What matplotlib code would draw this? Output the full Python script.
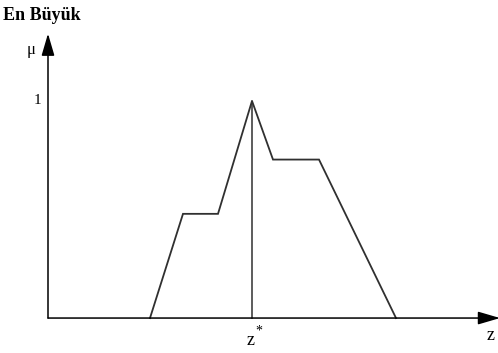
import matplotlib.pyplot as plt

# membership function of the aggregated output (z in arbitrary units)
z_pts = [5.1, 6.75, 8.5, 10.2, 11.25, 13.55, 17.4]
mu_pts = [0, 0.48, 0.48, 1, 0.73, 0.73, 0]
z_star = 10.2
mu_star = 1

fig = plt.figure(figsize=(4.98, 3.53), dpi=100)
ax = fig.add_axes([0, 0, 1, 1])
ax.set_xlim(-2.4, 22.5)
ax.set_ylim(-0.161, 1.465)
ax.axis('off')

line_col = '#303030'
serif = ['Liberation Serif', 'DejaVu Serif']

# axes with arrow heads
arrow = dict(arrowstyle='-|>,head_length=0.75,head_width=0.22', color='black',
             lw=1.1, mutation_scale=18, shrinkA=0, shrinkB=0)
ax.annotate('', xy=(0, 1.31), xytext=(0, 0), arrowprops=arrow,
            annotation_clip=False)
ax.annotate('', xy=(22.6, 0), xytext=(0, 0), arrowprops=arrow,
            annotation_clip=False)

ax.plot(z_pts, mu_pts, color=line_col, lw=1.3, solid_joinstyle='miter')
ax.plot([z_star, z_star], [0, mu_star], color=line_col, lw=1.1)

# labels
fig.text(3 / 498, 1 - 15 / 353, 'En Büyük', fontsize=13, fontweight='bold',
         family=serif, va='center', ha='left')
ax.text(-0.65, 1.235, 'μ', fontsize=12, family=serif, ha='right', va='center')
ax.text(-0.35, mu_star, '1', fontsize=11, family=serif, ha='right', va='center')
ax.text(z_star - 0.05, -0.105, 'z', fontsize=13, family=serif, ha='center', va='center')
ax.text(z_star + 0.32, -0.06, '*', fontsize=10, family=serif, ha='center', va='center')
ax.text(21.95, -0.08, 'z', fontsize=13, family=serif, ha='left', va='center')

fig.savefig('out.png', dpi=100)
